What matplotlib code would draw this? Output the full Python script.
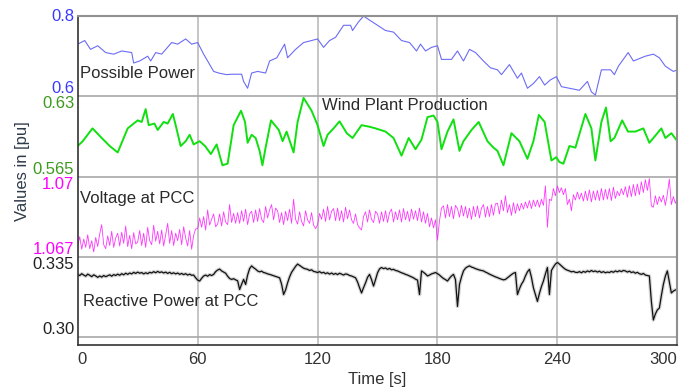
import numpy as np
import matplotlib
matplotlib.use("Agg")
import matplotlib.pyplot as plt
import matplotlib.transforms as mtransforms

plt.rcParams['font.family'] = ['Liberation Sans', 'DejaVu Sans']

# Possible Power [pu]
p_time = [0, 3.5, 6.4, 10, 14, 18, 22, 27, 28, 31, 35, 36.5, 39, 42, 47, 50, 54, 57, 60, 63,
          65, 68, 70.5, 74.4, 77, 82, 83, 85, 87, 90, 94, 96, 99.6, 103.5, 105, 109, 113, 117, 120, 123,
          126, 129, 133, 136.5, 137.5, 140.4, 143, 146, 150, 154, 158, 162, 166, 169.5, 171.5, 174, 177, 180, 182, 187,
          190, 193, 196, 199, 203, 206.5, 210, 212, 216, 220, 222, 225, 228, 231, 233.6, 236.5, 239.5, 242, 246, 251,
          255, 257, 259, 262, 266.6, 268.5, 270.5, 275.4, 278, 282, 284, 288, 291, 294, 298, 300]
p_val = [0.730, 0.739, 0.717, 0.726, 0.709, 0.705, 0.713, 0.709, 0.683, 0.688, 0.700, 0.688, 0.709, 0.705, 0.734, 0.730, 0.743, 0.730, 0.734, 0.705,
         0.688, 0.662, 0.658, 0.654, 0.655, 0.655, 0.637, 0.620, 0.658, 0.662, 0.658, 0.688, 0.696, 0.730, 0.696, 0.717, 0.734, 0.739, 0.743, 0.722,
         0.739, 0.747, 0.777, 0.777, 0.764, 0.785, 0.800, 0.790, 0.777, 0.764, 0.760, 0.739, 0.734, 0.713, 0.730, 0.713, 0.722, 0.726, 0.692, 0.692,
         0.713, 0.688, 0.717, 0.709, 0.688, 0.671, 0.666, 0.654, 0.679, 0.645, 0.658, 0.620, 0.632, 0.649, 0.628, 0.641, 0.649, 0.624, 0.620, 0.615,
         0.637, 0.611, 0.603, 0.666, 0.666, 0.654, 0.675, 0.709, 0.688, 0.696, 0.700, 0.705, 0.696, 0.675, 0.662, 0.666]

# Wind Plant Production [pu]
w_time = [0, 2.5, 7.4, 12, 16, 20, 25, 30, 32, 34, 35.5, 38.4, 40, 43, 45, 47.6, 49, 51.5, 54, 56,
          58, 61, 63.7, 66.6, 69.5, 72.4, 75, 78, 81.7, 83.7, 85, 87, 89, 91, 92.4, 94, 96.7, 100.6, 102.5, 104.5,
          108, 110, 113, 117, 120, 123, 125, 128, 131, 134.6, 137.5, 142, 146, 149, 154, 158, 162, 165.6, 169, 172,
          175, 178, 180, 182, 185, 188, 191, 193, 197, 200.6, 205, 208, 210, 213, 217, 221, 225, 228, 230.7, 233.6,
          237, 239.4, 241, 243, 246, 249, 254, 257, 259, 262, 264.3, 266.6, 268.5, 272.4, 275.3, 279, 283, 286, 292, 294,
          297, 300]
w_val = [0.5897, 0.5936, 0.6040, 0.5962, 0.5897, 0.5845, 0.6040, 0.6105, 0.6092, 0.6196,
         0.6066, 0.6079, 0.6027, 0.6092, 0.6079, 0.6157, 0.6066, 0.5897, 0.5936, 0.5988,
         0.5910, 0.5936, 0.5897, 0.5832, 0.5910, 0.5741, 0.5754, 0.6066, 0.6183, 0.6092,
         0.5923, 0.5988, 0.5962, 0.5858, 0.5741, 0.5884, 0.6105, 0.6027, 0.5936, 0.6014,
         0.5845, 0.6092, 0.6287, 0.6183, 0.6066, 0.5897, 0.5988, 0.6040, 0.6097, 0.6001,
         0.5962, 0.6066, 0.6053, 0.6040, 0.6014, 0.5962, 0.5819, 0.5962, 0.5871, 0.5949,
         0.6131, 0.6144, 0.6092, 0.5871, 0.6014, 0.6113, 0.5858, 0.5936, 0.6027, 0.6092,
         0.5936, 0.5884, 0.5858, 0.5741, 0.6001, 0.5936, 0.5793, 0.5936, 0.6149, 0.6092,
         0.5780, 0.5806, 0.5767, 0.5754, 0.5897, 0.5884, 0.6157, 0.6040, 0.5780, 0.6092,
         0.6209, 0.5936, 0.5962, 0.6105, 0.6014, 0.6014, 0.6040, 0.5923, 0.6040, 0.5962,
         0.6001, 0.5936]

# Voltage at PCC [pu], one sample per second
v_val = [1.06740, 1.06775, 1.06728, 1.06766, 1.06735, 1.06782, 1.06730, 1.06760, 1.06718, 1.06772,
         1.06738, 1.06785, 1.06820, 1.06745, 1.06730, 1.06778, 1.06742, 1.06795, 1.06735, 1.06770,
         1.06788, 1.06740, 1.06792, 1.06750, 1.06815, 1.06738, 1.06780, 1.06730, 1.06790, 1.06748,
         1.06755, 1.06798, 1.06742, 1.06788, 1.06735, 1.06810, 1.06760, 1.06745, 1.06818, 1.06758,
         1.06795, 1.06748, 1.06800, 1.06740, 1.06782, 1.06825, 1.06750, 1.06798, 1.06742, 1.06788,
         1.06760, 1.06802, 1.06745, 1.06812, 1.06770, 1.06740, 1.06798, 1.06728, 1.06780, 1.06804,
         1.06805, 1.06845, 1.06810, 1.06850, 1.06800, 1.06875, 1.06818, 1.06840, 1.06860, 1.06812,
         1.06822, 1.06860, 1.06815, 1.06868, 1.06830, 1.06820, 1.06895, 1.06828, 1.06862, 1.06825,
         1.06865, 1.06825, 1.06872, 1.06832, 1.06878, 1.06820, 1.06860, 1.06870, 1.06828, 1.06875,
         1.06832, 1.06880, 1.06840, 1.06828, 1.06888, 1.06845, 1.06875, 1.06895, 1.06838, 1.06882,
         1.06872, 1.06828, 1.06865, 1.06820, 1.06870, 1.06835, 1.06878, 1.06825, 1.06915, 1.06840,
         1.06822, 1.06868, 1.06832, 1.06815, 1.06872, 1.06838, 1.06825, 1.06865, 1.06818, 1.06805,
         1.06820, 1.06862, 1.06840, 1.06878, 1.06832, 1.06888, 1.06838, 1.06870, 1.06880, 1.06835,
         1.06882, 1.06835, 1.06872, 1.06830, 1.06885, 1.06842, 1.06875, 1.06838, 1.06825, 1.06860,
         1.06820, 1.06808, 1.06800, 1.06850, 1.06868, 1.06830, 1.06875, 1.06840, 1.06828, 1.06870,
         1.06860, 1.06825, 1.06868, 1.06832, 1.06872, 1.06828, 1.06865, 1.06878, 1.06830, 1.06868,
         1.06838, 1.06875, 1.06830, 1.06880, 1.06838, 1.06870, 1.06832, 1.06878, 1.06840, 1.06872,
         1.06835, 1.06882, 1.06830, 1.06868, 1.06825, 1.06862, 1.06812, 1.06845, 1.06808, 1.06838,
         1.06762, 1.06835, 1.06882, 1.06890, 1.06845, 1.06895, 1.06850, 1.06888, 1.06842, 1.06892,
         1.06880, 1.06848, 1.06892, 1.06852, 1.06888, 1.06845, 1.06882, 1.06840, 1.06888, 1.06850,
         1.06890, 1.06845, 1.06882, 1.06895, 1.06848, 1.06888, 1.06850, 1.06895, 1.06855, 1.06898,
         1.06900, 1.06860, 1.06912, 1.06872, 1.06928, 1.06865, 1.06895, 1.06855, 1.06902, 1.06862,
         1.06898, 1.06872, 1.06900, 1.06878, 1.06905, 1.06882, 1.06910, 1.06880, 1.06912, 1.06888,
         1.06912, 1.06885, 1.06915, 1.06892, 1.06965, 1.06810, 1.06915, 1.06910, 1.06955, 1.06928,
         1.06965, 1.06940, 1.06958, 1.06932, 1.06955, 1.06895, 1.06915, 1.06872, 1.06932, 1.06912,
         1.06942, 1.06915, 1.06938, 1.06908, 1.06945, 1.06910, 1.06950, 1.06905, 1.06946, 1.06912,
         1.06948, 1.06910, 1.06955, 1.06912, 1.06952, 1.06915, 1.06955, 1.06910, 1.06960, 1.06918,
         1.06945, 1.06928, 1.06955, 1.06932, 1.06962, 1.06922, 1.06965, 1.06925, 1.06970, 1.06928,
         1.06972, 1.06932, 1.06980, 1.06940, 1.06988, 1.06948, 1.06992, 1.06890, 1.06885, 1.06928,
         1.06895, 1.06925, 1.06905, 1.06930, 1.06892, 1.06935, 1.06990, 1.06895, 1.06925, 1.06900,
         1.06915]

# Reactive Power at PCC [pu], one sample per second
q_val = [0.3273, 0.3268, 0.3276, 0.3270, 0.3265, 0.3274, 0.3269, 0.3263, 0.3271, 0.3266,
         0.3260, 0.3266, 0.3261, 0.3268, 0.3263, 0.3267, 0.3271, 0.3265, 0.3272, 0.3268,
         0.3274, 0.3269, 0.3276, 0.3271, 0.3278, 0.3273, 0.3279, 0.3275, 0.3282, 0.3277,
         0.3283, 0.3278, 0.3281, 0.3275, 0.3280, 0.3276, 0.3282, 0.3279, 0.3285, 0.3280,
         0.3286, 0.3281, 0.3284, 0.3279, 0.3283, 0.3277, 0.3282, 0.3276, 0.3280, 0.3275,
         0.3279, 0.3273, 0.3277, 0.3272, 0.3276, 0.3270, 0.3274, 0.3269, 0.3270, 0.3258,
         0.3248, 0.3244, 0.3256, 0.3266, 0.3270, 0.3265, 0.3272, 0.3268, 0.3273, 0.3285,
         0.3292, 0.3296, 0.3288, 0.3283, 0.3278, 0.3265, 0.3255, 0.3251, 0.3254, 0.3249,
         0.3245, 0.3207, 0.3230, 0.3251, 0.3229, 0.3270, 0.3298, 0.3310, 0.3302, 0.3296,
         0.3288, 0.3284, 0.3287, 0.3281, 0.3279, 0.3275, 0.3273, 0.3270, 0.3267, 0.3264,
         0.3261, 0.3258, 0.3230, 0.3185, 0.3205, 0.3236, 0.3262, 0.3282, 0.3295, 0.3308,
         0.3318, 0.3312, 0.3306, 0.3300, 0.3297, 0.3295, 0.3290, 0.3293, 0.3286, 0.3284,
         0.3281, 0.3285, 0.3279, 0.3282, 0.3276, 0.3280, 0.3274, 0.3279, 0.3273, 0.3277,
         0.3272, 0.3278, 0.3274, 0.3270, 0.3275, 0.3273, 0.3268, 0.3266, 0.3262, 0.3258,
         0.3240, 0.3215, 0.3192, 0.3215, 0.3236, 0.3260, 0.3273, 0.3250, 0.3222, 0.3250,
         0.3280, 0.3297, 0.3303, 0.3298, 0.3301, 0.3295, 0.3299, 0.3293, 0.3295, 0.3290,
         0.3288, 0.3284, 0.3280, 0.3277, 0.3273, 0.3270, 0.3266, 0.3262, 0.3258, 0.3252,
         0.3248, 0.3185, 0.3288, 0.3282, 0.3275, 0.3266, 0.3270, 0.3275, 0.3278, 0.3281,
         0.3276, 0.3270, 0.3262, 0.3255, 0.3250, 0.3244, 0.3256, 0.3266, 0.3273, 0.3250,
         0.3133, 0.3229, 0.3262, 0.3288, 0.3300, 0.3306, 0.3310, 0.3305, 0.3302, 0.3298,
         0.3295, 0.3292, 0.3290, 0.3288, 0.3283, 0.3279, 0.3274, 0.3270, 0.3266, 0.3262,
         0.3259, 0.3255, 0.3252, 0.3249, 0.3251, 0.3258, 0.3265, 0.3272, 0.3278, 0.3281,
         0.3185, 0.3210, 0.3230, 0.3244, 0.3266, 0.3284, 0.3295, 0.3260, 0.3214, 0.3185,
         0.3155, 0.3190, 0.3220, 0.3244, 0.3275, 0.3303, 0.3185, 0.3290, 0.3305, 0.3318,
         0.3325, 0.3318, 0.3310, 0.3302, 0.3295, 0.3291, 0.3288, 0.3284, 0.3286, 0.3282,
         0.3281, 0.3285, 0.3280, 0.3286, 0.3282, 0.3288, 0.3284, 0.3290, 0.3285, 0.3288,
         0.3283, 0.3287, 0.3281, 0.3285, 0.3280, 0.3283, 0.3281, 0.3286, 0.3282, 0.3288,
         0.3284, 0.3289, 0.3285, 0.3290, 0.3288, 0.3283, 0.3287, 0.3281, 0.3284, 0.3278,
         0.3282, 0.3276, 0.3273, 0.3277, 0.3270, 0.3268, 0.3266, 0.3155, 0.3074, 0.3100,
         0.3118, 0.3126, 0.3180, 0.3229, 0.3265, 0.3288, 0.3240, 0.3192, 0.3200, 0.3205,
         0.3207]

sec_time = np.arange(len(v_val))

# (label, band limits lo/hi, tick colour, band index from bottom)
bands = [
    ("Possible Power", 0.6, 0.8, '#3a3aff', 3),
    ("Wind Plant Production", 0.565, 0.63, '#3c9a1e', 2),
    ("Voltage at PCC", 1.067, 1.07, '#ff00ff', 1),
    ("Reactive Power at PCC", 0.30, 0.335, '#222222', 0),
]
tick_texts = [("0.8", "0.6"), ("0.63", "0.565"), ("1.07", "1.067"), ("0.335", "0.30")]


def to_band(vals, lo, hi, idx):
    return idx + (np.asarray(vals) - lo) / (hi - lo)


fig = plt.figure(figsize=(6.94, 3.92), dpi=100)
ax = fig.add_axes([0.112, 0.12, 0.864, 0.839])
ax.set_xlim(0, 300)
ax.set_ylim(-0.1, 4.0)

# grid
for xg in [60, 120, 180, 240]:
    ax.axvline(xg, color='#c0c0c0', lw=1.3, zorder=0)
for yg in [0, 1, 2, 3]:
    ax.axhline(yg, color='#a8a8a8', lw=1.2, zorder=0)

ax.plot(p_time, to_band(p_val, 0.6, 0.8, 3), color='#6c6cf5', lw=0.8)
ax.plot(w_time, to_band(w_val, 0.565, 0.63, 2), color='#10e010', lw=1.4)
ax.plot(sec_time, to_band(v_val, 1.067, 1.07, 1), color='#ff22ff', lw=0.6, alpha=0.9)
qy = to_band(q_val, 0.30, 0.335, 0)
ax.plot(sec_time, qy, color='#aaaaaa', lw=2.6, alpha=0.5)
ax.plot(sec_time, qy, color='#111111', lw=0.9)

# band names
txt = dict(fontsize=12, color='#2a2a2a')
ax.text(1.2, 3.29, "Possible Power", va='center', ha='left', **txt)
ax.text(122, 2.89, "Wind Plant Production", va='center', ha='left', **txt)
ax.text(1.2, 1.73, "Voltage at PCC", va='center', ha='left', **txt)
ax.text(2.6, 0.44, "Reactive Power at PCC", va='center', ha='left', **txt)

# coloured band tick labels
trans = mtransforms.blended_transform_factory(ax.transAxes, ax.transData)
for (name, lo, hi, col, idx), (top_lab, bot_lab) in zip(bands, tick_texts):
    top_va = 'center' if idx == 3 else 'top'
    ax.text(-0.006, idx + 1, top_lab, transform=trans, ha='right', va=top_va,
            color=col, fontsize=12)
    ax.text(-0.006, idx, bot_lab, transform=trans, ha='right', va='bottom',
            color=col, fontsize=12)

ax.set_yticks([])
xt = [0, 60, 120, 180, 240, 300]
ax.set_xticks(xt)
ax.set_xticklabels([str(v) for v in xt], fontsize=12, color='#333333')
ax.tick_params(axis='x', length=0, pad=5)
labs = ax.get_xticklabels()
labs[0].set_ha('left')
labs[-1].set_ha('right')
ax.set_xlabel("Time [s]", fontsize=12, color='#333333', labelpad=4)

for side in ['top', 'right']:
    ax.spines[side].set_color('#909090')
    ax.spines[side].set_linewidth(1.5)
for side in ['left', 'bottom']:
    ax.spines[side].set_color('#333333')
    ax.spines[side].set_linewidth(1.2)

fig.text(23 / 694, 1 - 171 / 392, "Values in [pu]", rotation=90, ha='center', va='center',
         fontsize=12, color='#2f3a4a')

fig.savefig("out.png", dpi=100)
